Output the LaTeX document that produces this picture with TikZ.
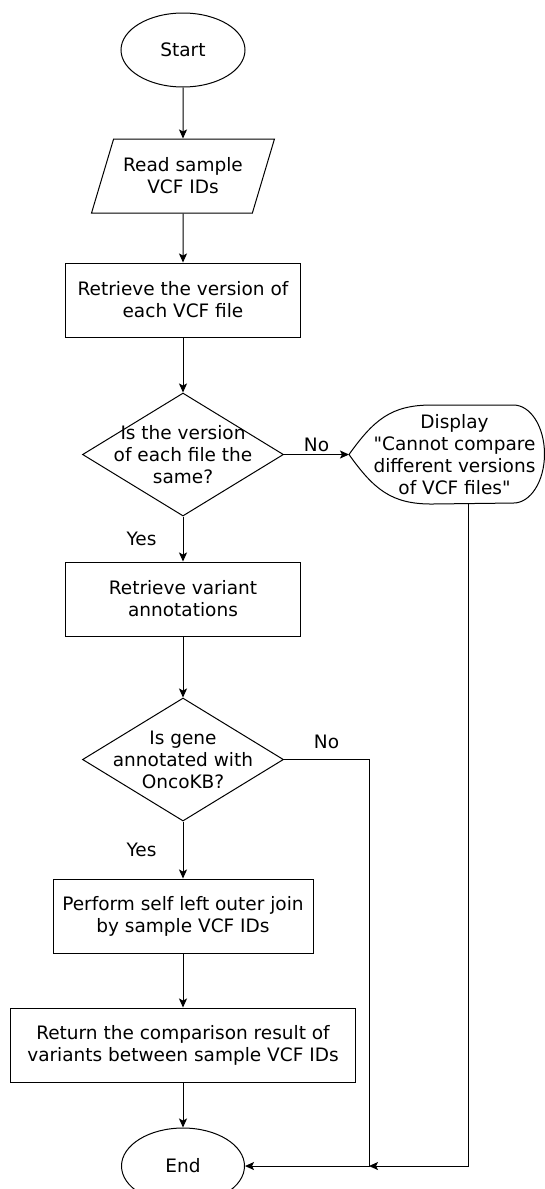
\documentclass[tikz,border=0pt]{standalone}
\usepackage{fontspec}
\setmainfont{DejaVu Sans}
\usetikzlibrary{positioning,calc}
\usetikzlibrary{shapes.geometric, arrows.meta}
\tikzset{
  tm/.style={ellipse, minimum width=124pt, minimum height=74pt, text centered, draw=black},
  io/.style={trapezium, trapezium left angle=64, trapezium right angle=116, trapezium stretches=true, minimum width=183pt, minimum height=74pt, align=center, draw=black},
  pr/.style={rectangle, minimum width=235pt, minimum height=74pt, align=center, draw=black},
  dc/.style={diamond, minimum width=201pt, minimum height=123pt, inner sep=0pt, draw=black},
  dp/.style={rectangle, minimum width=210pt, minimum height=98pt, align=center},
  node distance=50pt
}

\begin{document}
\begin{tikzpicture}[x=1pt, y=1pt, line width=1pt, inner sep=2pt,
  font=\fontsize{18.5}{22}\selectfont, >={Stealth[length=9pt, width=8pt, inset=2pt]}]
	\useasboundingbox (0,0) rectangle (544,-1189);
	\node[tm] (start) at (183,-50) {Start};
	\node[io, below=51pt of start] (read) {Read sample\\VCF IDs};
	\node[pr, below=49pt of read] (version) {Retrieve the version of\\each VCF file};
	\node[dc, below=55pt of version, label={[align=center]center:Is the version\\of each file the\\same?}] (same) {};
	\node[pr, below=45pt of same] (annot) {Retrieve variant\\annotations};
	\node[dc, below=61pt of annot, label={[align=center]center:Is gene\\annotated with\\OncoKB?}] (oncokb) {};
	\node[pr, below=57pt of oncokb, minimum width=260pt] (join) {Perform self left outer join\\by sample VCF IDs};
	\node[pr, below=54pt of join, minimum width=345pt] (result) {Return the comparison result of\\variants between sample VCF IDs};
	\node[tm, below=45pt of result, minimum width=123pt, minimum height=76pt] (end) {End};
	\node[dp, right=65pt of same] (show) {Display\\\textquotedbl Cannot compare\\different versions\\of VCF files\textquotedbl};
	% display outline: bent left side, round right side
	\draw (show.west) .. controls +(25pt,35pt) and +(-40pt,0pt) .. ([xshift=-23pt]show.north)
	  -- ([xshift=59pt]show.north) arc[start angle=90, end angle=-90, x radius=31pt, y radius=49pt]
	  -- ([xshift=-23pt]show.south) .. controls +(-40pt,0pt) and +(25pt,-35pt) .. (show.west);
	%
	\coordinate[right=124pt of end] (merge);
	\coordinate (showout) at ([xshift=14pt]show.south);
	%
	\draw[->] (start) -- (read);
	\draw[->] (read) -- (version);
	\draw[->] (version) -- (same);
	\draw[->] (same) -- node[above] {No} (show);
	\draw[->] (same) -- node[left=24pt] {Yes} (annot);
	\draw[->] (annot) -- (oncokb);
	\draw[->] (oncokb) -- node[left=24pt] {Yes} (join);
	\draw[->] (join) -- (result);
	\draw[->] (result) -- (end);
	\draw[->] (oncokb) -- node[above=8pt] {No} (oncokb -| merge) -- (merge) -- (end);
	\draw[->] (showout) |- (merge);
\end{tikzpicture}
\end{document}
